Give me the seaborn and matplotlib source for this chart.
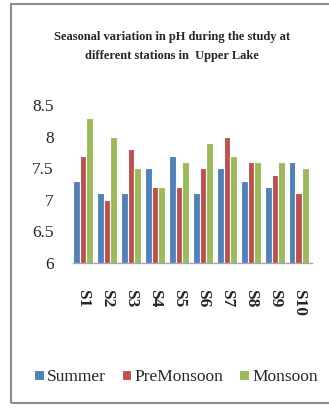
import matplotlib
matplotlib.use("Agg")
import matplotlib.pyplot as plt
from matplotlib.patches import Rectangle
import seaborn as sns
import pandas as pd

# pH readings per station and season
stations = ["S1", "S2", "S3", "S4", "S5", "S6", "S7", "S8", "S9", "S10"]
summer = [7.3, 7.1, 7.1, 7.5, 7.7, 7.1, 7.5, 7.3, 7.2, 7.6]
premonsoon = [7.7, 7.0, 7.8, 7.2, 7.2, 7.5, 8.0, 7.6, 7.4, 7.1]
monsoon = [8.3, 8.0, 7.5, 7.2, 7.6, 7.9, 7.7, 7.6, 7.6, 7.5]
seasons = ["Summer", "PreMonsoon", "Monsoon"]
y_ticks = [6, 6.5, 7, 7.5, 8, 8.5]
y_tick_labels = ["6", "6.5", "7", "7.5", "8", "8.5"]
title = "Seasonal variation in pH during the study at\ndifferent stations in  Upper Lake"

df = pd.DataFrame({
    "Station": stations * 3,
    "pH": summer + premonsoon + monsoon,
    "Season": [seasons[0]] * 10 + [seasons[1]] * 10 + [seasons[2]] * 10,
})

sns.set_style("white")
plt.rcParams["font.family"] = ["Liberation Serif", "DejaVu Serif"]

W, H = 329, 413
fig = plt.figure(figsize=(W / 100, H / 100), dpi=100)
ax = fig.add_axes([73 / W, 1 - 263 / H, (312 - 73) / W, (263 - 105) / H])

palette = ["#4F81BD", "#C0504D", "#9BBB59"]
sns.barplot(data=df, x="Station", y="pH", hue="Season", palette=palette,
            width=0.83, saturation=1, edgecolor="white", linewidth=0.8,
            ax=ax, errorbar=None)

ax.set_ylim(6, 8.5)
ax.set_xlim(-0.42, 9.55)
ax.set_yticks(y_ticks)
ax.set_yticklabels(y_tick_labels, fontsize=12.5)
ax.set_xlabel("")
ax.set_ylabel("")
ax.tick_params(axis="y", length=0, pad=14)
ax.tick_params(axis="x", length=0, pad=19)
for lbl in ax.get_xticklabels():
    lbl.set_rotation(270)
    lbl.set_fontsize(12.5)
    lbl.set_fontweight("bold")
    lbl.set_ha("center")
    lbl.set_va("top")

for side in ["top", "right", "left"]:
    ax.spines[side].set_visible(False)
ax.spines["bottom"].set_color("#a6a6a6")
ax.spines["bottom"].set_linewidth(1.0)

leg = ax.legend(loc="center", bbox_to_anchor=(176 / W, 1 - 377 / H),
                bbox_transform=fig.transFigure, ncol=3, frameon=False,
                fontsize=12.5, handlelength=0.55, handleheight=0.55,
                handletextpad=0.2, columnspacing=0.9, borderaxespad=0)

fig.text(172 / W, 1 - 46.5 / H, title, ha="center", va="center",
         fontsize=9, fontweight="bold", linespacing=1.7)

# outer chart frame
fig.patches.append(Rectangle((11 / W, 1 - 403 / H), 1.2, (403 - 4) / H,
                             transform=fig.transFigure, fill=False,
                             edgecolor="#8c8c8c", linewidth=1.5, clip_on=False))

fig.savefig("out.png", dpi=100)
